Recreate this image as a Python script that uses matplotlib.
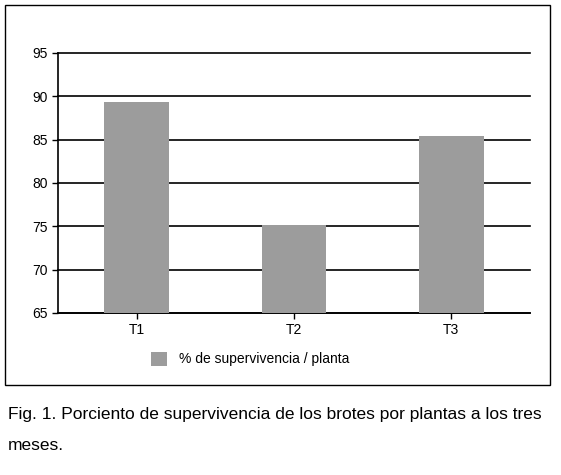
import matplotlib.pyplot as plt
from matplotlib.patches import Rectangle

categories = ["T1", "T2", "T3"]
values = [89.4, 75.1, 85.4]
legend_label = "% de supervivencia / planta"
caption_1 = "Fig. 1. Porciento de supervivencia de los brotes por plantas a los tres"
caption_2 = "meses."

plt.rcParams['font.family'] = ['Liberation Sans', 'DejaVu Sans']

fig = plt.figure(figsize=(5.61, 4.75), dpi=100)
ax = fig.add_axes([58 / 561, 162 / 475, 472 / 561, 260 / 475])

x = range(len(categories))
ax.bar(x, values, width=0.41, color='#9c9c9c', zorder=3, label=legend_label)
ax.set_ylim(65, 95)
ax.set_xlim(-0.5, 2.5)
ax.set_yticks(range(65, 96, 5))
ax.set_xticks(list(x))
ax.set_xticklabels(categories, fontsize=10)
ax.tick_params(axis='y', labelsize=10, length=4, width=1)
ax.tick_params(axis='x', length=4, width=1)
ax.grid(axis='y', color='black', linewidth=1.2, zorder=0)
for line in ax.get_ygridlines():
    line.set_clip_on(False)
for s in ['top', 'right']:
    ax.spines[s].set_visible(False)
ax.spines['left'].set_linewidth(1.2)
ax.spines['bottom'].set_linewidth(1.2)

ax.legend(loc='upper left', bbox_to_anchor=(0.17, -0.1), frameon=False,
          fontsize=10, handlelength=1.2, handleheight=1.2)

fig.patches.append(Rectangle((5 / 561, 1 - 385 / 475), 545 / 561, 380 / 475,
                             transform=fig.transFigure, fill=False,
                             edgecolor='black', linewidth=1))
fig.text(8 / 561, 1 - 415 / 475, caption_1, fontsize=12.5, va='center')
fig.text(8 / 561, 1 - 445 / 475, caption_2, fontsize=12.5, va='center')

fig.savefig("out.png", dpi=100)
